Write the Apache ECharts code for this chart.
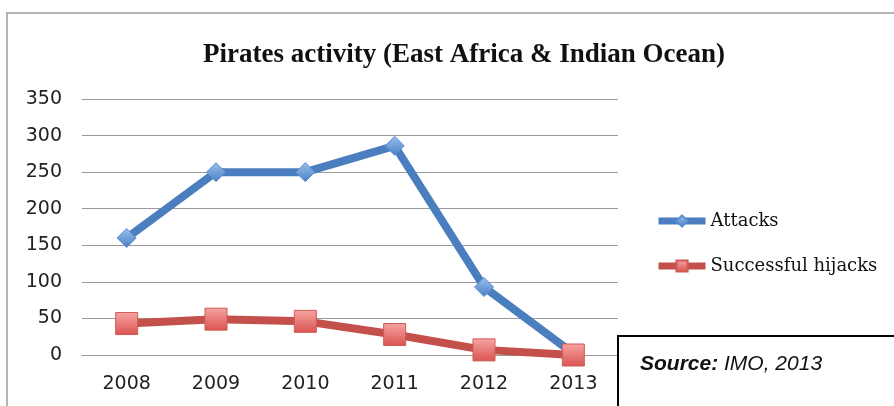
<!DOCTYPE html>
<html><head><meta charset="utf-8">
<script src="https://cdn.jsdelivr.net/npm/echarts@6/dist/echarts.min.js"></script>
<style>html,body{margin:0;padding:0;background:#fff}#c{width:894px;height:406px}</style>
</head><body><div id="c"></div>
<script>
const years = ['2008','2009','2010','2011','2012','2013'];
const attacks = [160, 250, 250, 286, 93, 2];
const hijacks = [43, 49, 46, 28, 7, 0];
const yTicks = [0, 50, 100, 150, 200, 250, 300, 350];

const chart = echarts.init(document.getElementById('c'), null, {renderer:'canvas'});
const blueFill = new echarts.graphic.LinearGradient(0,0,0,1,[{offset:0,color:'#9cc0ee'},{offset:1,color:'#4a7fc4'}]);
const redFill = new echarts.graphic.LinearGradient(0,0,0,1,[{offset:0,color:'#f7a5a3'},{offset:1,color:'#d9534f'}]);
chart.setOption({
  animation:false,
  backgroundColor:'#fff',
  title:{text:'Pirates activity (East Africa & Indian Ocean)', left:459, textAlign:'center', top:37,
    textStyle:{fontFamily:'Liberation Serif', fontWeight:'bold', fontSize:27, color:'#111'}},
  grid:{left:82, right:276, top:99, bottom:51},
  legend:{orient:'vertical', left:655, top:212, padding:0, itemGap:27, itemWidth:47, itemHeight:14,
    lineStyle:{width:7},
    textStyle:{fontFamily:'DejaVu Serif', fontSize:18, color:'#111'},
    data:['Attacks','Successful hijacks']},
  xAxis:{type:'category', data:years, boundaryGap:true,
    axisLine:{show:true, lineStyle:{color:'#999', width:1}}, axisTick:{show:false},
    axisLabel:{fontFamily:'DejaVu Sans', fontSize:19, color:'#222', margin:20}},
  yAxis:{type:'value', min:yTicks[0], max:yTicks[yTicks.length-1], interval:50,
    axisLine:{show:false}, axisTick:{show:false},
    splitLine:{lineStyle:{color:'#9a9a9a', width:1}},
    axisLabel:{fontFamily:'DejaVu Sans', fontSize:19, color:'#222', margin:20}},
  series:[
    {name:'Attacks', type:'line', data:attacks, symbol:'diamond', symbolSize:19,
      lineStyle:{color:'#4a7ebe', width:8}, itemStyle:{color:blueFill, borderColor:'#5b8fd0', borderWidth:1}, z:2},
    {name:'Successful hijacks', type:'line', data:hijacks, symbol:'rect', symbolSize:22,
      lineStyle:{color:'#c4504c', width:8}, itemStyle:{color:redFill, borderColor:'#d05a56', borderWidth:1}, z:3}
  ],
  graphic:[
    {type:'rect', z:-10, silent:true, shape:{x:7, y:13, width:1000, height:500},
      style:{fill:'none', stroke:'#b5b5b5', lineWidth:2}},
    {type:'rect', z:100, shape:{x:618, y:336, width:400, height:200},
      style:{fill:'#fff', stroke:'#000', lineWidth:2}},
    {type:'text', z:101, left:640, top:354,
      style:{text:'{b|Source:} IMO, 2013', font:'italic 21px "Liberation Sans"', fill:'#111',
        rich:{b:{fontWeight:'bold', fontStyle:'italic', fontSize:21, fontFamily:'Liberation Sans', fill:'#111'}}}}
  ]
});
</script></body></html>
